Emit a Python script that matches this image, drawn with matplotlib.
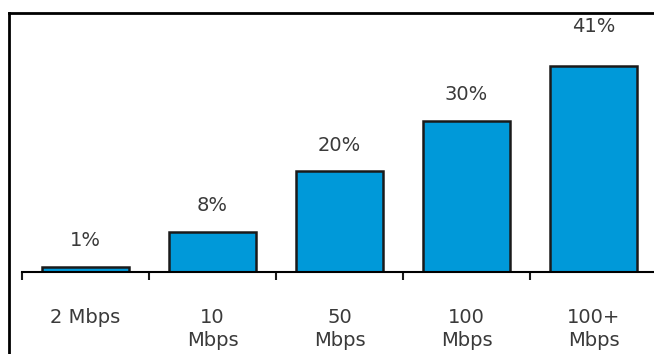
import matplotlib.pyplot as plt
from matplotlib.lines import Line2D

categories = ["2 Mbps", "10\nMbps", "50\nMbps", "100\nMbps", "100+\nMbps"]
shares = [1, 8, 20, 30, 41]
share_labels = ["1%", "8%", "20%", "30%", "41%"]

fig = plt.figure(figsize=(6.54, 3.54), dpi=100)
ax = fig.add_axes([22 / 654, 82 / 354, 635 / 654, 259 / 354])

x = range(len(categories))
bars = ax.bar(x, shares, width=0.68, color="#0099d9", edgecolor="#1a1a1a", linewidth=1.8)

for i, (b, lab) in enumerate(zip(bars, share_labels)):
    # the tallest bar's label sits a bit higher in the original
    lift = 28 if i == len(bars) - 1 else 19
    ax.annotate(lab, (b.get_x() + b.get_width() / 2, b.get_height()),
                xytext=(0, lift), textcoords="offset points",
                ha="center", va="center", fontsize=14, color="#3a3a3a")

ax.set_xlim(-0.5, len(categories) - 0.5)
ax.set_ylim(0, 51.5)
for side in ["top", "right", "left"]:
    ax.spines[side].set_visible(False)
ax.spines["bottom"].set_linewidth(1.5)
ax.set_yticks([])

ax.set_xticks(list(x))
ax.set_xticklabels(categories, fontsize=14, color="#3a3a3a", linespacing=1.25)
ax.set_xticks([i - 0.5 for i in range(len(categories) + 1)], minor=True)
ax.tick_params(axis="x", which="major", length=0, pad=26)
ax.tick_params(axis="x", which="minor", length=6, width=1.5, direction="out", color="#1a1a1a")

# outer frame (left and top edges visible in crop)
fig.add_artist(Line2D([9 / 654, 9 / 654], [0, 341 / 354], color="black", lw=2))
fig.add_artist(Line2D([9 / 654, 1], [341 / 354, 341 / 354], color="black", lw=2))

fig.savefig("out.png", dpi=100)
